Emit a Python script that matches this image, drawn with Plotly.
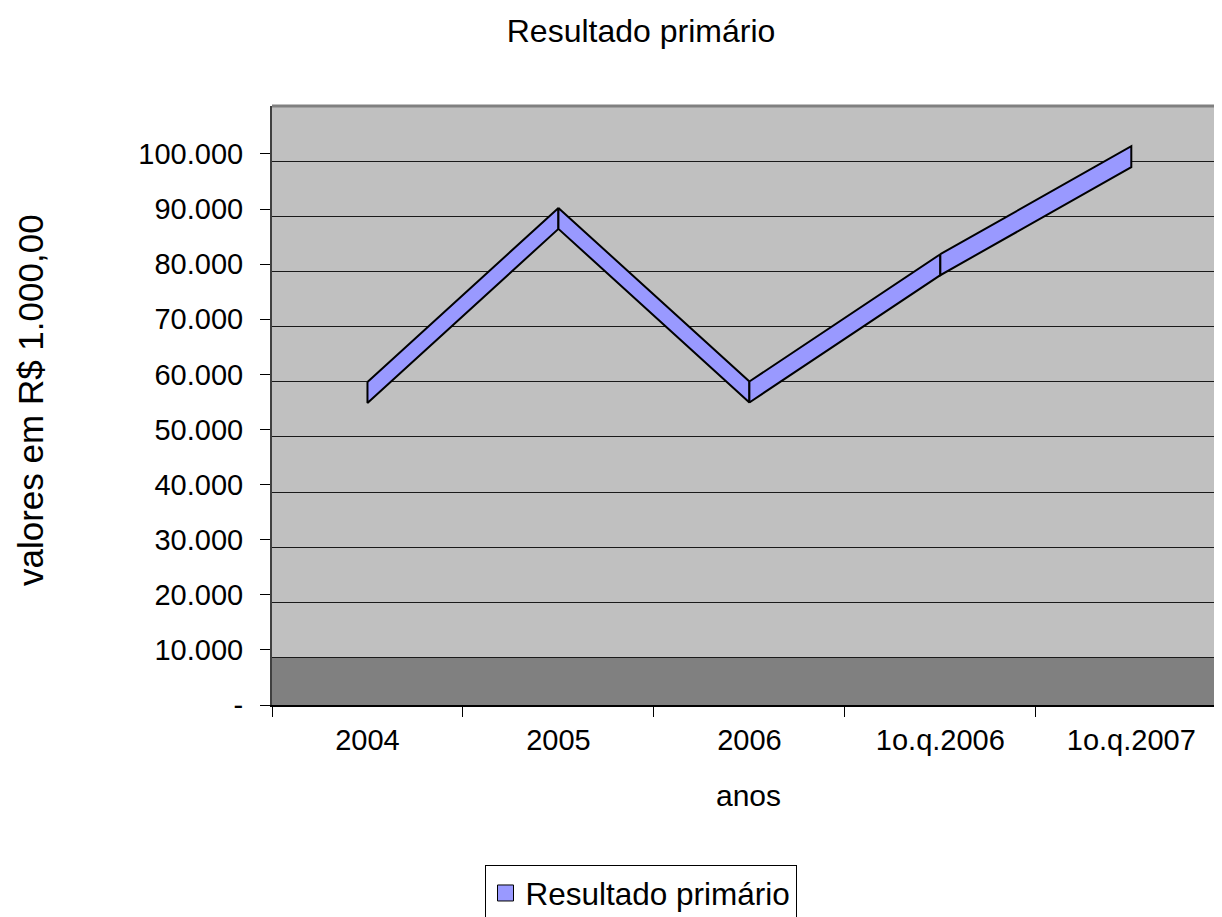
import plotly.graph_objects as go

# ---- data ----
categories = ["2004", "2005", "2006", "1o.q.2006", "1o.q.2007"]
values = [56700, 88300, 56800, 79900, 99500]
series_name = "Resultado primário"
tick_vals = [0, 10000, 20000, 30000, 40000, 50000, 60000, 70000, 80000, 90000, 100000]
tick_text = ["-", "10.000", "20.000", "30.000", "40.000", "50.000",
             "60.000", "70.000", "80.000", "90.000", "100.000"]

# ---- style constants ----
FONT = "Liberation Sans, Arial, sans-serif"
RIBBON_DEPTH = 3800        # apparent 3D depth of the ribbon, in data units
BACK_OFFSET = 1360         # back wall gridline offset, in data units
Y_TOP = 108700
FILL = "#9999FF"
PAGE_PAD = 8               # browser body margin
W, H = 1222 - PAGE_PAD, 917 - PAGE_PAD
PLOT_L, PLOT_T, PLOT_B = 272, 106, 705   # page pixel positions of the plot area
PLOT_W, PLOT_H = 1222 - PLOT_L, PLOT_B - PLOT_T

fig = go.Figure()

half = RIBBON_DEPTH / 2
for i in range(len(categories) - 1):
    xa, xb = categories[i], categories[i + 1]
    va, vb = values[i], values[i + 1]
    fig.add_trace(go.Scatter(
        x=[xa, xb, xb, xa, xa],
        y=[va + half, vb + half, vb - half, va - half, va + half],
        mode="lines", fill="toself", fillcolor=FILL,
        line=dict(color="black", width=2),
        showlegend=False, hoverinfo="skip"))

# legend entry
fig.add_trace(go.Scatter(
    x=[None], y=[None], mode="markers", name=series_name,
    marker=dict(symbol="square", size=22, color=FILL, line=dict(color="black", width=1))))

# dummy trace to activate back-wall gridline axis
fig.add_trace(go.Scatter(x=[categories[0]], y=[None], yaxis="y2",
                         showlegend=False, hoverinfo="skip", mode="lines"))


def px_x(px):
    return (px - PLOT_L) / PLOT_W


def px_y(py):
    return (PLOT_B - py) / PLOT_H


fig.update_layout(
    width=W, height=H,
    margin=dict(l=PLOT_L - PAGE_PAD, r=0, t=PLOT_T - PAGE_PAD, b=H - (PLOT_B - PAGE_PAD),
                autoexpand=False),
    paper_bgcolor="white", plot_bgcolor="#C0C0C0",
    font=dict(family=FONT, color="black"),
    title=dict(text="Resultado primário", font=dict(size=32, family=FONT, color="black"),
               x=(641 - PAGE_PAD) / W, xref="container", xanchor="center",
               y=(H - (31 - PAGE_PAD)) / H, yref="container", yanchor="middle"),
    xaxis=dict(type="category", categoryorder="array", categoryarray=categories,
               range=[-0.5, 4.475], tickson="boundaries", ticks="outside", ticklen=10,
               tickcolor="black", tickwidth=1, showline=True, linecolor="black", linewidth=2,
               showgrid=False, zeroline=False, ticklabelstandoff=8, automargin=False,
               tickfont=dict(size=29, family=FONT, color="black")),
    yaxis=dict(range=[0, Y_TOP], tickvals=tick_vals, ticktext=tick_text,
               ticks="outside", ticklen=10, tickcolor="black", tickwidth=1,
               showline=True, linecolor="#404040", linewidth=2, automargin=False,
               showgrid=False, zeroline=False, ticklabelstandoff=11,
               tickfont=dict(size=29, family=FONT, color="black")),
    yaxis2=dict(overlaying="y", range=[BACK_OFFSET, Y_TOP + BACK_OFFSET],
                tickvals=tick_vals[1:], showticklabels=False, ticks="",
                showgrid=True, gridcolor="#1a1a1a", gridwidth=1,
                showline=False, zeroline=False),
    legend=dict(x=px_x(640.5), xanchor="center", y=px_y(865), yanchor="top",
                bgcolor="white", bordercolor="black", borderwidth=1,
                entrywidth=292,
                font=dict(size=31.5, family=FONT, color="black")),
    shapes=[
        dict(type="rect", xref="paper", x0=0, x1=1, yref="y2", y0=BACK_OFFSET, y1=10000,
             fillcolor="#808080", line=dict(width=0), layer="below"),
        dict(type="line", xref="paper", x0=0, x1=1, yref="paper", y0=1, y1=1,
             line=dict(color="#808080", width=3)),
    ],
    annotations=[
        dict(text="valores em R$ 1.000,00", textangle=-90, xref="paper", yref="paper",
             x=px_x(30), y=px_y(400), xanchor="center", yanchor="middle",
             showarrow=False, font=dict(size=35, family=FONT, color="black")),
        dict(text="anos", xref="paper", yref="paper",
             x=px_x(748), y=px_y(795), xanchor="center", yanchor="middle",
             showarrow=False, font=dict(size=30, family=FONT, color="black")),
    ],
    showlegend=True,
)

fig.write_html("out.html")
